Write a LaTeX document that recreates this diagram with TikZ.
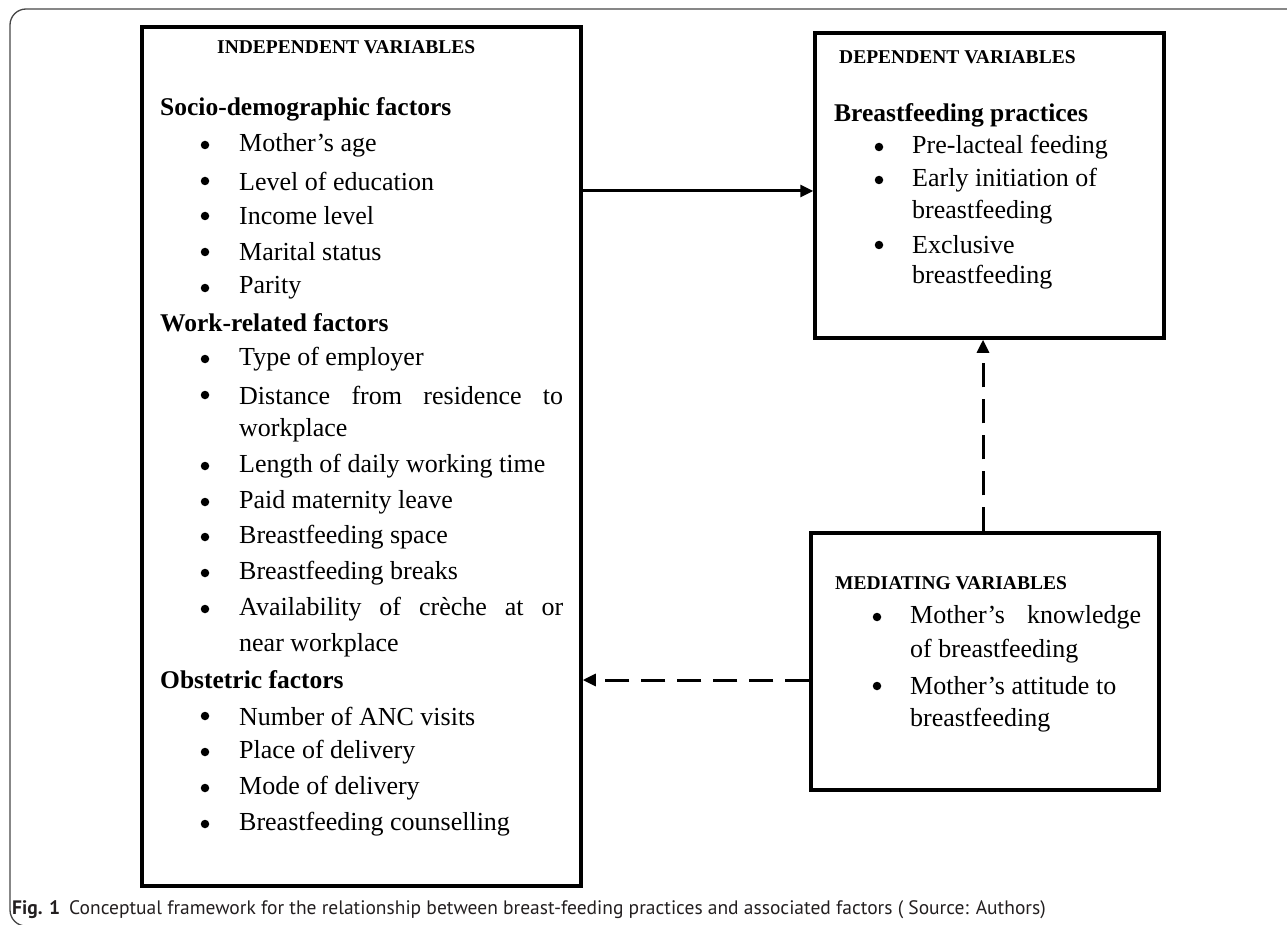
\documentclass[tikz,border=0pt]{standalone}
\usepackage{fontspec}
\setmainfont{Liberation Serif}
\newfontfamily\captionfont{PT Sans}
\usetikzlibrary{arrows.meta,positioning,calc}
\definecolor{boxcolor}{RGB}{0,0,0}
\definecolor{framecolor}{RGB}{70,70,70}
\definecolor{captioncolor}{RGB}{35,31,32}
\tikzset{
framebox/.style={
  draw=boxcolor,
  line width=3.5pt,
  inner sep=0pt
},
headlabel/.style={
  font=\fontsize{19.5}{23}\selectfont\bfseries,
  anchor=west,
  inner sep=0pt
},
grouplabel/.style={
  font=\fontsize{25.5}{30}\selectfont\bfseries,
  anchor=west,
  inner sep=0pt
},
itemtext/.style={
  font=\fontsize{26}{30}\selectfont,
  anchor=west,
  inner sep=0pt
},
bulletmark/.style={
  circle,
  fill=black,
  inner sep=0pt,
  minimum size=8.5pt
},
arrow/.style={
  -{Triangle[length=13pt,width=12pt]},
  line width=3pt,
  draw=boxcolor
},
dashedarrow/.style={
  arrow,
  dash pattern=on 24pt off 12pt
}
}

\begin{document}
\begin{tikzpicture}[x=1pt,y=-1pt]
  \useasboundingbox (0,0) rectangle (1287,925);
  % Column positions
  \def\bulA{205}  % bullets, left box
  \def\txtA{239}  % items, left box
  \def\bulB{879}  % bullets, right boxes
  \def\txtB{912}

  % Page frame
  \draw[framecolor, line width=1.3pt, rounded corners=16pt] (1300,9) -- (10,9) -- (10,926) -- (1300,926);

  % Boxes
  \node[framebox, minimum width=439pt, minimum height=859pt] (indep) at (361.5,456.5) {};
  \node[framebox, minimum width=349pt, minimum height=305pt] (dep) at (989.5,185.5) {};
  \node[framebox, minimum width=348pt, minimum height=257pt] (med) at (985,661.5) {};

  % Independent variables
  \node[headlabel] (indeptitle) at (217,47) {INDEPENDENT VARIABLES};
  \node[grouplabel] (socio) at (160,109) {Socio-demographic factors};
  \foreach \y/\t [count=\i] in {145/Mother’s age, 181/Level of education, 216/Income level, 252/Marital status, 288/Parity} {
    \node[bulletmark] (sb\i) at (\bulA,\y) {};
    \node[itemtext] (st\i) at (\txtA,\y) {\t};
  }
  \node[grouplabel] (work) at (160,323) {Work-related factors};
  \foreach \y/\t [count=\i] in {359/Type of employer, 395/{\makebox[324pt][s]{Distance from residence to}}, 466/Length of daily working time, 502/Paid maternity leave, 537/Breastfeeding space, 573/Breastfeeding breaks, 609/{\makebox[324pt][s]{Availability of crèche at or}}} {
    \node[bulletmark] (wb\i) at (\bulA,\y) {};
    \node[itemtext] (wt\i) at (\txtA,\y) {\t};
  }
  \node[itemtext] (wt2b) at (\txtA,430) {workplace};
  \node[itemtext] (wt7b) at (\txtA,645) {near workplace};
  \node[grouplabel] (obst) at (160,680) {Obstetric factors};
  \foreach \y/\t [count=\i] in {716/Number of ANC visits, 752/Place of delivery, 788/Mode of delivery, 824/Breastfeeding counselling} {
    \node[bulletmark] (ob\i) at (\bulA,\y) {};
    \node[itemtext] (ot\i) at (\txtA,\y) {\t};
  }

  % Dependent variables
  \node[headlabel] (deptitle) at (839,57) {DEPENDENT VARIABLES};
  \node[grouplabel] (bfp) at (834,115) {Breastfeeding practices};
  \foreach \y/\t [count=\i] in {147/Pre-lacteal feeding, 180/Early initiation of, 245/Exclusive} {
    \node[bulletmark] (db\i) at (\bulB,\y) {};
    \node[itemtext] (dt\i) at (\txtB,\y) {\t};
  }
  \node[itemtext] (dt2b) at (\txtB,212) {breastfeeding};
  \node[itemtext] (dt3b) at (\txtB,277) {breastfeeding};

  % Mediating variables
  \node[headlabel] (medtitle) at (835,583) {MEDIATING VARIABLES};
  \node[bulletmark] (mb1) at (877,617) {};
  \node[itemtext] (mt1) at (910,617) {\makebox[231pt][s]{Mother’s knowledge}};
  \node[itemtext] (mt1b) at (910,651) {of breastfeeding};
  \node[bulletmark] (mb2) at (877,686) {};
  \node[itemtext] (mt2) at (910,686) {Mother’s attitude to};
  \node[itemtext] (mt2b) at (910,720) {breastfeeding};

  % Connectors
  \coordinate (solidrow) at (0,191);
  \coordinate (dashcol) at (983,0);
  \coordinate (dashrow) at (0,680);
  \draw[arrow] (solidrow -| indep.east) -- (solidrow -| dep.west);
  \draw[dashedarrow] (dashcol |- med.north) -- (dashcol |- dep.south);
  \draw[dashedarrow] (dashrow -| med.west) -- (dashrow -| indep.east);

  % Caption
  \node[anchor=west, inner sep=0pt, text=captioncolor, font=\captionfont\fontsize{19.5}{23}\selectfont] (caption) at (12,910)
    {\textbf{Fig. 1}\hspace{9pt}Conceptual framework for the relationship between breast-feeding practices and associated factors ( Source: Authors)};
\end{tikzpicture}
\end{document}
